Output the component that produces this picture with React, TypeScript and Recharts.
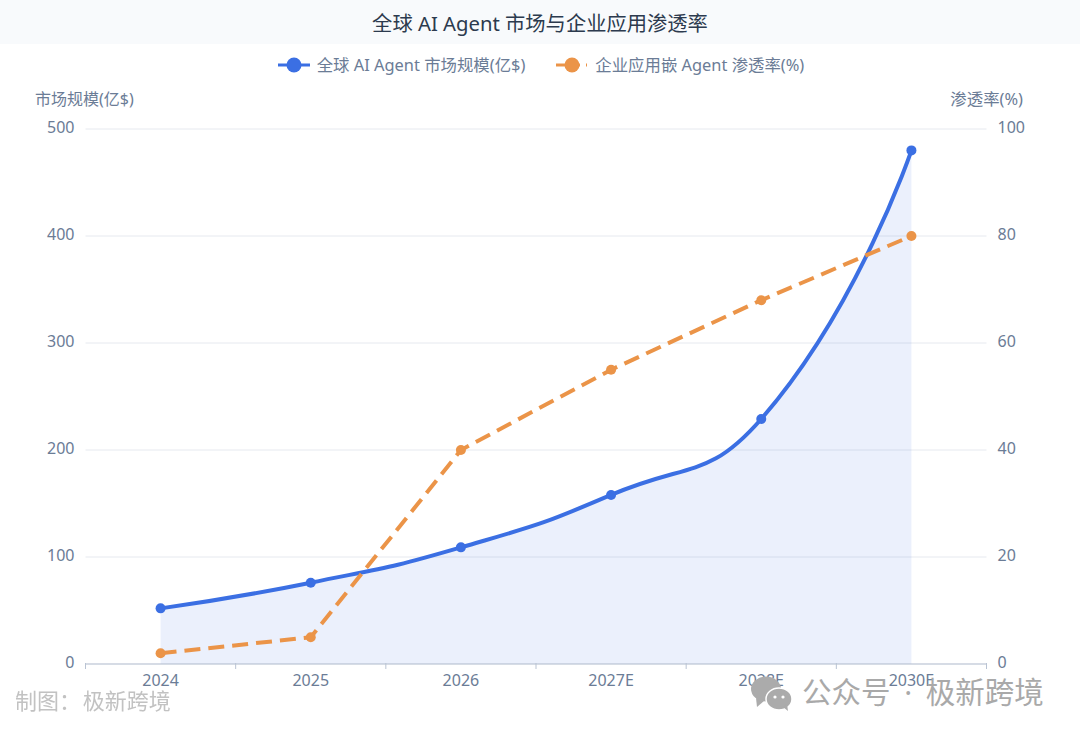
import React from "react";
import { ComposedChart, Area, Line, XAxis, YAxis, CartesianGrid, Legend } from "recharts";

const categories = ["2024", "2025", "2026", "2027E", "2028E", "2030E"];
const marketSize = [52, 76, 109, 158, 229, 480];
const penetration = [2, 5, 40, 55, 68, 80];
const marketTicks = [0, 100, 200, 300, 400, 500];
const rateTicks = [0, 20, 40, 60, 80, 100];

const rows = categories.map((year, i) => ({ year, marketSize: marketSize[i], penetration: penetration[i] }));

const BLUE = "#3b6fe3";
const ORANGE = "#eb9448";
const TICK = "#6b7c96";
const AXIS = "#b9c3d3";
const GRID = "#e6e9ef";
const FONT = '"Noto Sans", "Noto Sans CJK SC", sans-serif';
const MARKET_NAME = "全球 AI Agent 市场规模(亿$)";
const RATE_NAME = "企业应用嵌 Agent 渗透率(%)";

// Smooth curve using tangents scaled by neighbour distance, like the reference's line smoothing.
function smoothCurve(context: any) {
  let pts: [number, number][] = [];
  let line = NaN;
  const s = 0.5;
  return {
    areaStart() { line = 0; },
    areaEnd() { line = NaN; },
    lineStart() { pts = []; },
    lineEnd() {
      const n = pts.length;
      if (n) {
        if (line === 1) context.lineTo(pts[0][0], pts[0][1]);
        else context.moveTo(pts[0][0], pts[0][1]);
        const ctrl = (i: number, dir: number): [number, number] => {
          const p = pts[i];
          const prev = pts[i - 1];
          const next = pts[i + 1];
          if (!prev || !next) return p;
          const vx = next[0] - prev[0];
          const vy = next[1] - prev[1];
          const d0 = Math.hypot(p[0] - prev[0], p[1] - prev[1]);
          const d1 = Math.hypot(next[0] - p[0], next[1] - p[1]);
          const sum = d0 + d1 || 1;
          const r = (dir > 0 ? d1 : d0) / sum;
          return [p[0] + dir * vx * s * r, p[1] + dir * vy * s * r];
        };
        for (let i = 0; i < n - 1; i++) {
          const a = ctrl(i, 1);
          const b = ctrl(i + 1, -1);
          context.bezierCurveTo(a[0], a[1], b[0], b[1], pts[i + 1][0], pts[i + 1][1]);
        }
      }
      if (line === 0) line = 1;
      else if (line === 1) { context.closePath(); }
    },
    point(x: number, y: number) { pts.push([+x, +y]); },
  };
}

const BAND = 901 / categories.length;

function XTick(props: any) {
  const { x, y, payload, index } = props;
  return (
    <g>
      <line x1={x - BAND / 2} x2={x - BAND / 2} y1={y - 9} y2={y - 3} stroke={AXIS} strokeWidth={1} />
      {index === categories.length - 1 && (
        <line x1={x + BAND / 2} x2={x + BAND / 2} y1={y - 9} y2={y - 3} stroke={AXIS} strokeWidth={1} />
      )}
      <text x={x} y={y + 14} textAnchor="middle" fontSize={16} fill={TICK} fontFamily={FONT}>
        {payload.value}
      </text>
    </g>
  );
}

function LegendRow() {
  const item = (color: string, label: string, dashed: boolean) => (
    <div style={{ display: "flex", alignItems: "center" }}>
      <svg width={32} height={16} style={{ marginRight: 7 }}>
        <line x1={0} x2={dashed ? 24 : 32} y1={8} y2={8} stroke={color} strokeWidth={3} />
        {dashed && <line x1={30} x2={31} y1={8} y2={8} stroke={color} strokeWidth={3} />}
        <circle cx={16} cy={8} r={7.5} fill={color} />
      </svg>
      <span style={{ fontSize: 16.4, color: TICK, fontFamily: FONT }}>{label}</span>
    </div>
  );
  return (
    <div style={{ display: "flex", justifyContent: "center", gap: 31, marginLeft: 2, lineHeight: "22px" }}>
      {item(BLUE, MARKET_NAME, false)}
      {item(ORANGE, RATE_NAME, true)}
    </div>
  );
}

const overlayText = (style: React.CSSProperties): React.CSSProperties => ({
  position: "absolute",
  fontFamily: FONT,
  whiteSpace: "nowrap",
  ...style,
});

export default function App() {
  return (
    <div style={{ position: "absolute", left: 0, top: 0, width: 1080, height: 737, background: "#fff", overflow: "hidden" }}>
      <div
        style={{
          position: "absolute", left: 0, top: 0, width: 1080, height: 44, background: "#f8fafc",
          textAlign: "center", lineHeight: "46px", fontSize: 20.3, color: "#2c3a4e", fontFamily: FONT,
        }}
      >
        全球 AI Agent 市场与企业应用渗透率
      </div>
      <ComposedChart
        width={1080}
        height={737}
        data={rows}
        margin={{ top: 129, left: 45.5, right: 53.5, bottom: 43 }}
        style={{ position: "absolute", left: 0, top: 0 }}
      >
        <CartesianGrid yAxisId="left" horizontal vertical={false} stroke={GRID} strokeWidth={1} />
        <XAxis
          dataKey="year"
          height={30}
          axisLine={{ stroke: AXIS, strokeWidth: 1 }}
          tickLine={false}
          tick={<XTick />}
          interval={0}
          padding={{ left: BAND / 2, right: BAND / 2 }}
        />
        <YAxis
          yAxisId="left"
          width={40}
          domain={[0, 500]}
          ticks={marketTicks}
          axisLine={false}
          tickLine={false}
          tickSize={0}
          tickMargin={11}
          tick={{ fontSize: 16, fill: TICK, fontFamily: FONT, dy: -2 }}
        />
        <YAxis
          yAxisId="right"
          orientation="right"
          width={40}
          domain={[0, 100]}
          ticks={rateTicks}
          axisLine={false}
          tickLine={false}
          tickSize={0}
          tickMargin={11}
          tick={{ fontSize: 16, fill: TICK, fontFamily: FONT, dy: -2 }}
        />
        <Legend
          layout="vertical"
          align="center"
          verticalAlign="middle"
          content={<LegendRow />}
          wrapperStyle={{ position: "absolute", top: 54, left: 0, width: 1080, height: 22 }}
        />
        <Area
          yAxisId="left"
          dataKey="marketSize"
          name={MARKET_NAME}
          type={smoothCurve as any}
          stroke={BLUE}
          strokeWidth={4}
          fill={BLUE}
          fillOpacity={0.1}
          dot={{ r: 5, fill: BLUE, stroke: BLUE, strokeWidth: 0, fillOpacity: 1 }}
          activeDot={false}
          isAnimationActive={false}
        />
        <Line
          yAxisId="right"
          dataKey="penetration"
          name={RATE_NAME}
          type="linear"
          stroke={ORANGE}
          strokeWidth={4}
          strokeDasharray="16 8"
          dot={{ r: 5, fill: ORANGE, stroke: ORANGE, strokeWidth: 0, strokeDasharray: "" }}
          activeDot={false}
          isAnimationActive={false}
        />
      </ComposedChart>
      <div style={overlayText({ left: 35, top: 88, fontSize: 16, color: TICK, lineHeight: "22px" })}>市场规模(亿$)</div>
      <div style={overlayText({ right: 57, top: 88, fontSize: 16.4, color: TICK, lineHeight: "22px" })}>渗透率(%)</div>
      <div style={overlayText({ left: 15, top: 686, fontSize: 22, wordSpacing: -4, color: "#c2c2c2", lineHeight: "28px", filter: "blur(0.6px)" })}>
        制图： 极新跨境
      </div>
      <svg width={44} height={40} style={{ position: "absolute", left: 750, top: 674 }}>
        <ellipse cx={16} cy={15} rx={15} ry={12.5} fill="#ababab" />
        <path d="M6 24 L7 33 L15 26 Z" fill="#ababab" />
        <ellipse cx={29} cy={25} rx={13} ry={11} fill="#ababab" stroke="#fff" strokeWidth={1.5} />
        <path d="M33 33 L38 37 L37 30 Z" fill="#ababab" />
        <circle cx={25} cy={23} r={1.6} fill="#fff" />
        <circle cx={33} cy={23} r={1.6} fill="#fff" />
      </svg>
      <div style={overlayText({ left: 802, top: 673, fontSize: 29.5, wordSpacing: 6, color: "#a9a9a9", lineHeight: "38px" })}>
        公众号 · 极新跨境
      </div>
    </div>
  );
}
